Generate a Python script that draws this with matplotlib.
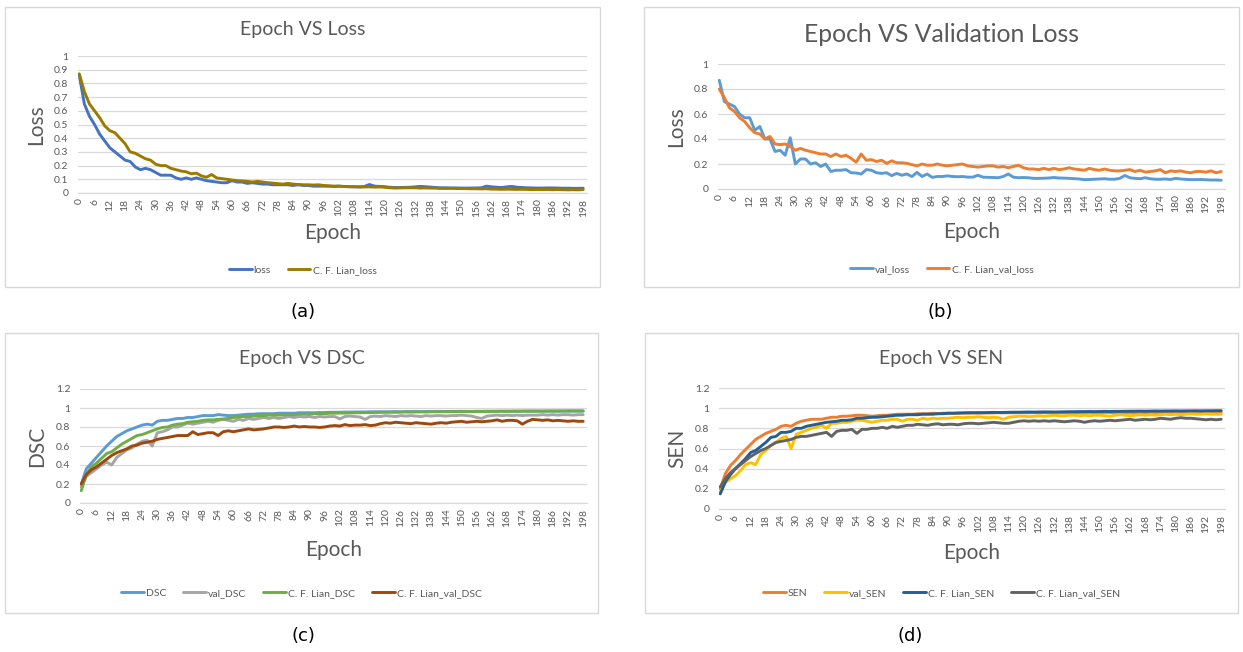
import numpy as np
import matplotlib

matplotlib.use("Agg")
import matplotlib.pyplot as plt
from matplotlib.patches import Rectangle

plt.rcParams["font.family"] = ["Lato", "DejaVu Sans"]

# epochs are the chart categories (values read every 2 epochs)
epochs = np.arange(0, 200, 2)
xticks = np.arange(0, 199, 6)

# (a) training loss
loss = [0.86, 0.65, 0.56, 0.50, 0.43, 0.38, 0.33, 0.30, 0.27, 0.24,
        0.23, 0.19, 0.17, 0.18, 0.17, 0.15, 0.13, 0.13, 0.13, 0.11,
        0.10, 0.11, 0.10, 0.11, 0.10, 0.09, 0.085, 0.08, 0.075, 0.075,
        0.09, 0.08, 0.08, 0.07, 0.075, 0.07, 0.065, 0.065, 0.06, 0.06,
        0.06, 0.06, 0.055, 0.06, 0.055, 0.055, 0.05, 0.05, 0.05, 0.05,
        0.048, 0.05, 0.047, 0.046, 0.045, 0.044, 0.047, 0.062, 0.05, 0.048,
        0.046, 0.042, 0.04, 0.04, 0.041, 0.042, 0.045, 0.048, 0.046, 0.043,
        0.04, 0.038, 0.038, 0.037, 0.037, 0.036, 0.036, 0.036, 0.037, 0.038,
        0.05, 0.045, 0.042, 0.04, 0.045, 0.048, 0.042, 0.04, 0.038, 0.037,
        0.036, 0.036, 0.037, 0.037, 0.036, 0.035, 0.035, 0.034, 0.034, 0.035]
lian_loss = [0.87, 0.74, 0.65, 0.60, 0.55, 0.49, 0.455, 0.44, 0.40, 0.36,
             0.30, 0.29, 0.27, 0.25, 0.24, 0.21, 0.20, 0.20, 0.18, 0.17,
             0.16, 0.155, 0.14, 0.145, 0.125, 0.115, 0.135, 0.11, 0.105, 0.10,
             0.095, 0.09, 0.088, 0.085, 0.08, 0.085, 0.08, 0.075, 0.072, 0.068,
             0.065, 0.07, 0.065, 0.062, 0.06, 0.06, 0.058, 0.06, 0.055, 0.052,
             0.05, 0.05, 0.048, 0.046, 0.046, 0.045, 0.044, 0.045, 0.043, 0.044,
             0.042, 0.038, 0.036, 0.037, 0.038, 0.038, 0.038, 0.036, 0.037, 0.036,
             0.035, 0.034, 0.033, 0.034, 0.033, 0.032, 0.032, 0.031, 0.031, 0.03,
             0.031, 0.028, 0.028, 0.027, 0.028, 0.027, 0.026, 0.027, 0.026, 0.025,
             0.026, 0.025, 0.026, 0.024, 0.026, 0.024, 0.023, 0.024, 0.023, 0.025]

# (b) validation loss
val_loss = [0.87, 0.70, 0.68, 0.66, 0.60, 0.57, 0.57, 0.47, 0.50, 0.40,
            0.40, 0.30, 0.31, 0.27, 0.41, 0.20, 0.24, 0.24, 0.20, 0.21,
            0.18, 0.20, 0.14, 0.15, 0.15, 0.155, 0.13, 0.128, 0.12, 0.155,
            0.15, 0.13, 0.125, 0.13, 0.107, 0.125, 0.11, 0.12, 0.10, 0.133,
            0.10, 0.12, 0.093, 0.10, 0.10, 0.105, 0.10, 0.098, 0.10, 0.095,
            0.095, 0.11, 0.095, 0.093, 0.092, 0.09, 0.10, 0.12, 0.095, 0.09,
            0.092, 0.09, 0.085, 0.085, 0.086, 0.088, 0.092, 0.088, 0.087, 0.085,
            0.083, 0.08, 0.075, 0.076, 0.078, 0.08, 0.082, 0.078, 0.078, 0.085,
            0.108, 0.09, 0.085, 0.082, 0.09, 0.082, 0.078, 0.078, 0.08, 0.076,
            0.085, 0.08, 0.077, 0.075, 0.075, 0.076, 0.074, 0.072, 0.072, 0.07]
lian_val_loss = [0.80, 0.73, 0.65, 0.62, 0.57, 0.54, 0.49, 0.45, 0.44, 0.40,
                 0.42, 0.36, 0.355, 0.36, 0.34, 0.31, 0.325, 0.31, 0.30, 0.29,
                 0.28, 0.28, 0.26, 0.28, 0.26, 0.27, 0.245, 0.215, 0.28, 0.23,
                 0.235, 0.22, 0.23, 0.205, 0.225, 0.21, 0.21, 0.205, 0.195, 0.185,
                 0.20, 0.19, 0.19, 0.20, 0.19, 0.185, 0.19, 0.195, 0.20, 0.185,
                 0.18, 0.175, 0.18, 0.185, 0.185, 0.175, 0.18, 0.17, 0.18, 0.19,
                 0.17, 0.16, 0.16, 0.155, 0.165, 0.155, 0.165, 0.155, 0.16, 0.17,
                 0.16, 0.155, 0.15, 0.165, 0.155, 0.15, 0.16, 0.15, 0.145, 0.145,
                 0.15, 0.155, 0.14, 0.15, 0.135, 0.14, 0.145, 0.155, 0.13, 0.145,
                 0.14, 0.145, 0.135, 0.13, 0.14, 0.14, 0.135, 0.145, 0.13, 0.14]

# (c) DSC
dsc = [0.20, 0.36, 0.42, 0.48, 0.54, 0.60, 0.65, 0.70, 0.73, 0.76,
       0.78, 0.80, 0.82, 0.83, 0.82, 0.86, 0.87, 0.87, 0.88, 0.89,
       0.89, 0.90, 0.90, 0.91, 0.92, 0.92, 0.92, 0.93, 0.925, 0.92,
       0.92, 0.925, 0.93, 0.935, 0.935, 0.94, 0.94, 0.94, 0.94, 0.945,
       0.945, 0.945, 0.945, 0.95, 0.95, 0.95, 0.95, 0.952, 0.952, 0.955,
       0.955, 0.955, 0.957, 0.957, 0.958, 0.958, 0.958, 0.96, 0.96, 0.96,
       0.96, 0.96, 0.962, 0.96, 0.962, 0.962, 0.963, 0.962, 0.963, 0.963,
       0.963, 0.964, 0.963, 0.964, 0.964, 0.965, 0.964, 0.964, 0.965, 0.965,
       0.965, 0.966, 0.965, 0.966, 0.966, 0.965, 0.966, 0.966, 0.967, 0.966,
       0.966, 0.967, 0.967, 0.966, 0.967, 0.967, 0.967, 0.968, 0.967, 0.967]
val_dsc = [0.17, 0.28, 0.32, 0.36, 0.40, 0.43, 0.40, 0.48, 0.52, 0.56,
           0.58, 0.62, 0.65, 0.66, 0.60, 0.74, 0.75, 0.77, 0.80, 0.80,
           0.82, 0.84, 0.83, 0.84, 0.85, 0.86, 0.85, 0.87, 0.88, 0.87,
           0.86, 0.88, 0.87, 0.89, 0.88, 0.89, 0.90, 0.89, 0.90, 0.89,
           0.90, 0.91, 0.90, 0.91, 0.905, 0.91, 0.90, 0.91, 0.905, 0.91,
           0.91, 0.885, 0.91, 0.915, 0.91, 0.905, 0.88, 0.91, 0.915, 0.91,
           0.92, 0.915, 0.91, 0.92, 0.915, 0.92, 0.915, 0.91, 0.92, 0.915,
           0.92, 0.92, 0.915, 0.92, 0.92, 0.925, 0.92, 0.915, 0.90, 0.89,
           0.915, 0.92, 0.925, 0.92, 0.925, 0.92, 0.925, 0.92, 0.925, 0.925,
           0.925, 0.93, 0.925, 0.93, 0.925, 0.93, 0.93, 0.925, 0.93, 0.93]
lian_dsc = [0.13, 0.30, 0.38, 0.42, 0.47, 0.52, 0.54, 0.58, 0.62, 0.65,
            0.68, 0.71, 0.72, 0.74, 0.76, 0.78, 0.795, 0.80, 0.82, 0.83,
            0.835, 0.85, 0.855, 0.86, 0.87, 0.875, 0.875, 0.88, 0.885, 0.89,
            0.90, 0.905, 0.91, 0.91, 0.915, 0.92, 0.92, 0.925, 0.925, 0.925,
            0.93, 0.93, 0.93, 0.935, 0.935, 0.935, 0.94, 0.94, 0.94, 0.945,
            0.945, 0.947, 0.946, 0.949, 0.95, 0.95, 0.952, 0.951, 0.953, 0.955,
            0.955, 0.956, 0.955, 0.957, 0.958, 0.957, 0.958, 0.959, 0.958, 0.96,
            0.96, 0.961, 0.96, 0.962, 0.961, 0.962, 0.963, 0.962, 0.963, 0.964,
            0.965, 0.964, 0.965, 0.966, 0.965, 0.967, 0.966, 0.967, 0.967, 0.968,
            0.968, 0.967, 0.968, 0.969, 0.968, 0.969, 0.97, 0.969, 0.97, 0.97]
lian_val_dsc = [0.20, 0.30, 0.35, 0.38, 0.42, 0.46, 0.50, 0.53, 0.55, 0.57,
                0.60, 0.61, 0.63, 0.64, 0.65, 0.67, 0.68, 0.69, 0.70, 0.71,
                0.71, 0.71, 0.75, 0.72, 0.73, 0.74, 0.74, 0.71, 0.75, 0.76,
                0.75, 0.76, 0.77, 0.78, 0.77, 0.775, 0.78, 0.79, 0.80, 0.80,
                0.795, 0.80, 0.81, 0.80, 0.805, 0.80, 0.80, 0.795, 0.80, 0.81,
                0.815, 0.81, 0.825, 0.815, 0.82, 0.82, 0.825, 0.815, 0.82, 0.835,
                0.845, 0.84, 0.85, 0.845, 0.84, 0.835, 0.845, 0.84, 0.835, 0.83,
                0.84, 0.845, 0.84, 0.85, 0.855, 0.86, 0.85, 0.855, 0.86, 0.855,
                0.86, 0.865, 0.875, 0.86, 0.87, 0.87, 0.865, 0.83, 0.86, 0.88,
                0.875, 0.87, 0.875, 0.865, 0.87, 0.865, 0.86, 0.865, 0.86, 0.86]

# (d) SEN
sen = [0.20, 0.35, 0.43, 0.48, 0.54, 0.59, 0.64, 0.69, 0.72, 0.75,
       0.77, 0.79, 0.82, 0.83, 0.82, 0.85, 0.87, 0.88, 0.89, 0.89,
       0.89, 0.90, 0.91, 0.91, 0.92, 0.92, 0.925, 0.93, 0.93, 0.925,
       0.92, 0.925, 0.93, 0.93, 0.935, 0.94, 0.94, 0.94, 0.94, 0.945,
       0.945, 0.945, 0.95, 0.945, 0.95, 0.95, 0.948, 0.95, 0.952, 0.95,
       0.952, 0.95, 0.953, 0.952, 0.953, 0.955, 0.953, 0.955, 0.954, 0.955,
       0.955, 0.954, 0.956, 0.955, 0.956, 0.955, 0.957, 0.956, 0.955, 0.956,
       0.957, 0.956, 0.957, 0.958, 0.956, 0.957, 0.958, 0.957, 0.955, 0.956,
       0.957, 0.958, 0.955, 0.952, 0.956, 0.958, 0.957, 0.958, 0.959, 0.958,
       0.958, 0.959, 0.958, 0.96, 0.959, 0.96, 0.959, 0.96, 0.96, 0.96]
val_sen = [0.17, 0.26, 0.30, 0.33, 0.38, 0.44, 0.46, 0.44, 0.54, 0.58,
           0.63, 0.66, 0.70, 0.72, 0.60, 0.74, 0.76, 0.78, 0.80, 0.81,
           0.83, 0.80, 0.85, 0.85, 0.86, 0.86, 0.87, 0.88, 0.88, 0.87,
           0.86, 0.87, 0.88, 0.88, 0.89, 0.89, 0.87, 0.89, 0.89, 0.88,
           0.90, 0.89, 0.90, 0.895, 0.90, 0.90, 0.905, 0.91, 0.905, 0.91,
           0.91, 0.915, 0.91, 0.905, 0.91, 0.905, 0.89, 0.91, 0.915, 0.92,
           0.92, 0.915, 0.92, 0.925, 0.92, 0.925, 0.93, 0.925, 0.925, 0.93,
           0.93, 0.925, 0.93, 0.925, 0.93, 0.93, 0.925, 0.92, 0.93, 0.935,
           0.93, 0.925, 0.93, 0.935, 0.93, 0.935, 0.93, 0.935, 0.94, 0.935,
           0.94, 0.935, 0.94, 0.945, 0.94, 0.94, 0.945, 0.94, 0.94, 0.94]
lian_sen = [0.15, 0.27, 0.34, 0.40, 0.45, 0.50, 0.56, 0.58, 0.62, 0.66,
            0.71, 0.72, 0.76, 0.76, 0.77, 0.80, 0.80, 0.82, 0.83, 0.84,
            0.85, 0.86, 0.865, 0.87, 0.88, 0.88, 0.885, 0.90, 0.90, 0.905,
            0.91, 0.91, 0.915, 0.92, 0.925, 0.93, 0.93, 0.935, 0.935, 0.935,
            0.94, 0.94, 0.94, 0.945, 0.945, 0.95, 0.95, 0.952, 0.953, 0.955,
            0.955, 0.956, 0.955, 0.957, 0.958, 0.957, 0.958, 0.959, 0.96, 0.96,
            0.961, 0.962, 0.961, 0.962, 0.963, 0.963, 0.962, 0.963, 0.964, 0.965,
            0.965, 0.966, 0.966, 0.967, 0.966, 0.967, 0.968, 0.967, 0.968, 0.968,
            0.969, 0.97, 0.97, 0.971, 0.97, 0.971, 0.972, 0.971, 0.972, 0.972,
            0.973, 0.972, 0.973, 0.973, 0.974, 0.973, 0.974, 0.974, 0.975, 0.975]
lian_val_sen = [0.22, 0.30, 0.36, 0.40, 0.44, 0.48, 0.52, 0.55, 0.58, 0.60,
                0.63, 0.66, 0.67, 0.68, 0.69, 0.71, 0.72, 0.72, 0.73, 0.74,
                0.75, 0.76, 0.72, 0.77, 0.78, 0.78, 0.79, 0.75, 0.79, 0.79,
                0.80, 0.80, 0.81, 0.80, 0.82, 0.81, 0.82, 0.83, 0.83, 0.84,
                0.835, 0.83, 0.84, 0.845, 0.835, 0.84, 0.84, 0.835, 0.845, 0.85,
                0.85, 0.845, 0.85, 0.855, 0.86, 0.855, 0.85, 0.85, 0.86, 0.87,
                0.875, 0.87, 0.875, 0.87, 0.875, 0.87, 0.875, 0.87, 0.865, 0.87,
                0.875, 0.87, 0.86, 0.87, 0.875, 0.87, 0.875, 0.88, 0.875, 0.88,
                0.885, 0.89, 0.88, 0.885, 0.89, 0.885, 0.89, 0.90, 0.895, 0.89,
                0.90, 0.905, 0.90, 0.90, 0.895, 0.89, 0.885, 0.89, 0.885, 0.89]

W, H = 1243, 652
TXT = "#595959"
GRID = "#d9d9d9"

# area / box are pixel rectangles (left, top, right, bottom)
panels = [
    dict(area=(78, 56, 587, 193), box=(5, 7, 600, 287), title="Epoch VS Loss", tsize=14, ty=30,
         ylab="Loss", ylx=36, xly=233, legy=270, ymax=1.0, ystep=0.1,
         cap="(a)", capxy=(303, 312),
         series=[("loss", loss, "#4472C4"), ("C. F. Lian_loss", lian_loss, "#9C7A00")]),
    dict(area=(718, 64, 1225, 189), box=(644, 7, 1239, 287), title="Epoch VS Validation Loss",
         tsize=17.8, ty=34, ylab="Loss", ylx=676, xly=232, legy=269, ymax=1.0, ystep=0.2,
         cap="(b)", capxy=(940, 312),
         series=[("val_loss", val_loss, "#5B9BD5"),
                 ("C. F. Lian_val_loss", lian_val_loss, "#ED7D31")]),
    dict(area=(80, 389, 587, 503), box=(5, 333, 598, 613), title="Epoch VS DSC", tsize=14, ty=358,
         ylab="DSC", ylx=37, xly=550, legy=593, ymax=1.2, ystep=0.2,
         cap="(c)", capxy=(303, 636),
         series=[("DSC", dsc, "#5B9BD5"), ("val_DSC", val_dsc, "#A5A5A5"),
                 ("C. F. Lian_DSC", lian_dsc, "#70AD47"),
                 ("C. F. Lian_val_DSC", lian_val_dsc, "#9E480E")]),
    dict(area=(719, 388, 1225, 509), box=(645, 333, 1238, 613), title="Epoch VS SEN", tsize=14,
         ty=358, ylab="SEN", ylx=677, xly=553, legy=593, ymax=1.2, ystep=0.2,
         cap="(d)", capxy=(910, 636),
         series=[("SEN", sen, "#ED7D31"), ("val_SEN", val_sen, "#FFC000"),
                 ("C. F. Lian_SEN", lian_sen, "#255E91"),
                 ("C. F. Lian_val_SEN", lian_val_sen, "#636363")]),
]

fig = plt.figure(figsize=(W / 100, H / 100), dpi=100)
fig.patch.set_facecolor("white")

for p in panels:
    l, t, r, b = p["area"]
    ax = fig.add_axes([l / W, 1 - b / H, (r - l) / W, (b - t) / H])
    for name, vals, color in p["series"]:
        ax.plot(epochs, vals, color=color, lw=2.1, label=name,
                solid_joinstyle="round", solid_capstyle="round")
    ax.set_xlim(-0.5, 199.5)
    ax.set_ylim(0, p["ymax"])
    yt = np.round(np.arange(0, p["ymax"] + 1e-9, p["ystep"]), 1)
    ax.set_yticks(yt)
    ax.set_yticklabels([f"{v:g}" for v in yt])
    ax.set_xticks(xticks)
    ax.set_xticklabels([str(v) for v in xticks], rotation=90)
    ax.tick_params(axis="both", length=0, labelsize=7.5, labelcolor=TXT)
    ax.tick_params(axis="y", pad=7)
    ax.tick_params(axis="x", pad=4)
    ax.grid(axis="y", color=GRID, lw=0.9)
    ax.set_axisbelow(True)
    for s in ("top", "right", "left"):
        ax.spines[s].set_visible(False)
    ax.spines["bottom"].set_color(GRID)
    ax.spines["bottom"].set_linewidth(0.9)

    bl, bt, br, bb = p["box"]
    fig.add_artist(Rectangle((bl / W, 1 - bb / H), (br - bl) / W, (bb - bt) / H,
                             transform=fig.transFigure, fill=False, ec=GRID, lw=1))
    cx = (bl + br) / 2
    fig.text(cx / W, 1 - p["ty"] / H, p["title"], ha="center", va="center",
             fontsize=p["tsize"], color=TXT)
    fig.text(p["ylx"] / W, 1 - ((t + b) / 2) / H, p["ylab"], ha="center", va="center",
             rotation=90, fontsize=15, color=TXT)
    fig.text(((l + r) / 2) / W, 1 - p["xly"] / H, "Epoch", ha="center", va="center",
             fontsize=15, color=TXT)
    fig.legend(*ax.get_legend_handles_labels(), loc="center",
               bbox_to_anchor=(cx / W, 1 - p["legy"] / H), ncol=len(p["series"]),
               frameon=False, fontsize=7.5, handlelength=2.2, handletextpad=0.2,
               columnspacing=1.6, labelcolor=TXT)
    fig.text(p["capxy"][0] / W, 1 - p["capxy"][1] / H, p["cap"], ha="center", va="center",
             fontsize=13, color="black", family="DejaVu Sans")

fig.savefig("out.png", dpi=100)
